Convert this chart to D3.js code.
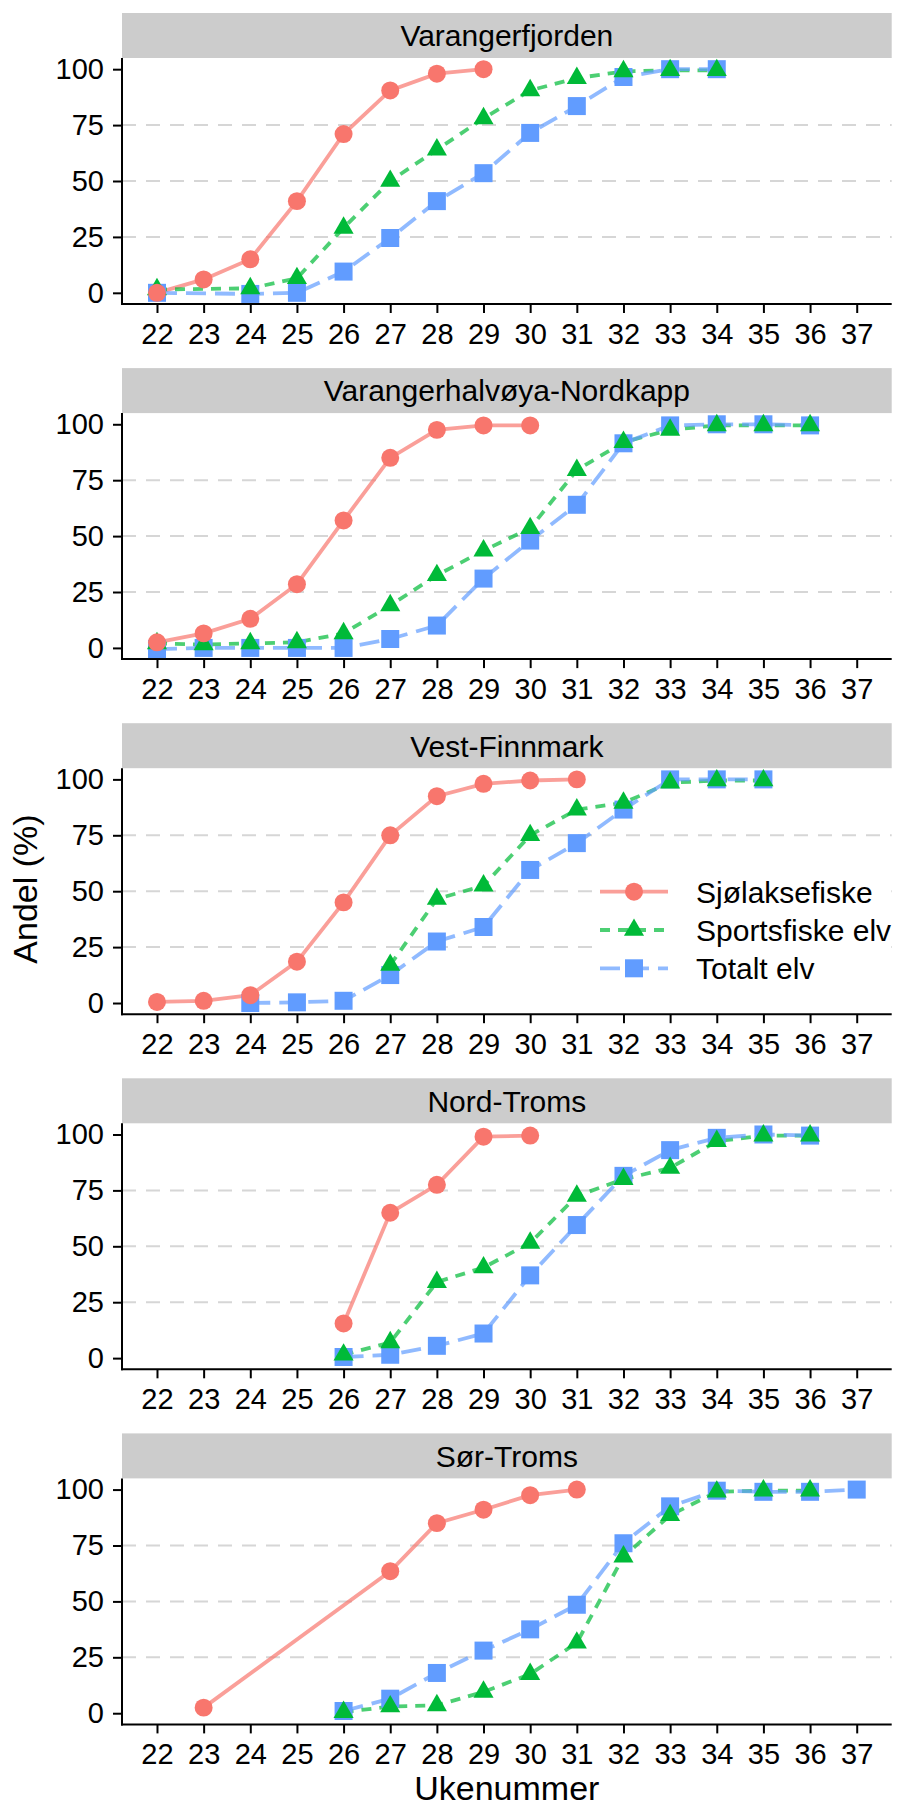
<!DOCTYPE html>
<html>
<head>
<meta charset="utf-8">
<script src="https://cdn.jsdelivr.net/npm/d3@7"></script>
<style>
  body { margin: 0; background: #fff; }
  svg { display: block; font-family: "Liberation Sans", Arial, sans-serif; }
</style>
</head>
<body>
<svg width="899" height="1809"></svg>
<script>
// Facet names, series names and week ticks
var regions = ['Varangerfjorden', 'Varangerhalvøya-Nordkapp', 'Vest-Finnmark', 'Nord-Troms', 'Sør-Troms'];
var seriesNames = ['Sjølaksefiske', 'Sportsfiske elv', 'Totalt elv'];
var weeks = [22, 23, 24, 25, 26, 27, 28, 29, 30, 31, 32, 33, 34, 35, 36, 37];
var yTicks = [0, 25, 50, 75, 100];

// Cumulative share (%) per week, one value per entry in weeks (null = no data)
var varangerfjordenSjo   = [0, 6, 15, 41, 71, 90.5, 98, 100, null, null, null, null, null, null, null, null];
var varangerfjordenSport = [1.5, null, 2, 6.5, 29, 50, 64, 78, 90.5, 96, 99, 99.5, 99.5, null, null, null];
var varangerfjordenTotal = [0, null, -0.5, 0, 9.5, 24.5, 41, 53.5, 71.5, 83.5, 96.5, 100, 100, null, null, null];

var nordkappSjo   = [2.5, 6.5, 13, 28.5, 57, 85, 97.5, 99.5, 99.5, null, null, null, null, null, null, null];
var nordkappSport = [2, 1.5, 2, 2.5, 6.5, 19, 32.5, 43.5, 53.5, 79.5, 92, 97.5, 99.5, 99.5, 99.5, null];
var nordkappTotal = [-0.5, 0, 0, 0, 0, 4, 10, 31, 48, 64, 91.5, 99.5, 100, 100, 99.5, null];

var vestFinnmarkSjo   = [0.5, 1, 3.5, 18.5, 45, 75, 92.5, 98, 99.5, 100, null, null, null, null, null, null];
var vestFinnmarkSport = [null, null, null, null, null, 17, 46.5, 52.5, 75, 86.5, 89.5, 98.5, 99.5, 99.5, null, null];
var vestFinnmarkTotal = [null, null, 0, 0.3, 1, 12.5, 27.5, 34, 59.5, 71.5, 86.5, 100, 100, 100, null, null];

var nordTromsSjo   = [null, null, null, null, 15.5, 65, 77.5, 99, 99.5, null, null, null, null, null, null, null];
var nordTromsSport = [null, null, null, null, 1.5, 7, 34, 40.5, 51.5, 72.5, 80, 85, 97, 99.5, 99.5, null];
var nordTromsTotal = [null, null, null, null, 0.5, 1.5, 5.5, 11, 37, 59.5, 81.5, 93, 98.5, 100, 99.5, null];

var sorTromsSjo   = [null, 2.5, null, null, null, 63.5, 85, 91, 97.5, 100, null, null, null, null, null, null];
var sorTromsSport = [null, null, null, null, 0.5, 3, 3.5, 9.5, 17.5, 31.5, 70, 88.5, 99, 99.5, 99.5, null];
var sorTromsTotal = [null, null, null, null, 1, 6.5, 18, 28, 37.5, 48.5, 76, 92.5, 99.5, 99, 99, 100];

var panelValues = [
  [varangerfjordenSjo, varangerfjordenSport, varangerfjordenTotal],
  [nordkappSjo, nordkappSport, nordkappTotal],
  [vestFinnmarkSjo, vestFinnmarkSport, vestFinnmarkTotal],
  [nordTromsSjo, nordTromsSport, nordTromsTotal],
  [sorTromsSjo, sorTromsSport, sorTromsTotal]
];

// Styling per series
var colors = ['#F8766D', '#00BA38', '#619CFF'];
var dashes = [null, '10,8', '20,9'];
var symbols = [d3.symbolCircle, d3.symbolTriangle, d3.symbolSquare];
var symbolSizes = [254, 175, 324];

var svg = d3.select('svg');

// Layout
var left = 122, right = 891.7;
var firstTop = 13, panelStep = 355.1, stripH = 45, plotH = 246;
var font = 29;

var x = d3.scaleLinear().domain([21.25, 37.75]).range([left, right]);

// Draw one facet panel
regions.forEach(function (region, i) {
  var top = firstTop + i * panelStep;
  var plotTop = top + stripH;
  var plotBottom = plotTop + plotH;
  var y = d3.scaleLinear().domain([-5, 105]).range([plotBottom, plotTop]);
  var g = svg.append('g').attr('class', 'panel');

  // Strip:
  g.append('rect')
    .attr('x', left).attr('y', top)
    .attr('width', right - left).attr('height', stripH)
    .attr('fill', '#cccccc');
  g.append('text')
    .attr('x', (left + right) / 2).attr('y', top + stripH / 2)
    .attr('dy', '0.36em')
    .attr('text-anchor', 'middle')
    .attr('font-size', 30)
    .text(region);

  // Dashed grid at inner ticks:
  g.selectAll('.grid')
    .data(yTicks.filter(function (d) { return d > 0 && d < 100; }))
    .enter()
    .append('line')
    .attr('x1', left).attr('x2', right)
    .attr('y1', y).attr('y2', y)
    .attr('stroke', '#d6d6d6')
    .attr('stroke-width', 2)
    .attr('stroke-dasharray', '14,10');

  // Legend background sits on the third panel (drawn before the lines)
  if (i === 2) {
    svg.append('rect')
      .attr('x', 595).attr('y', 870)
      .attr('width', 296).attr('height', 120)
      .attr('fill', '#fff');
  }

  // Axes:
  var yAxis = g.append('g')
    .attr('transform', 'translate(' + left + ',0)')
    .call(d3.axisLeft(y).tickValues(yTicks).tickSize(9).tickPadding(9));
  var xAxis = g.append('g')
    .attr('transform', 'translate(0,' + plotBottom + ')')
    .call(d3.axisBottom(x).tickValues(weeks).tickSize(9).tickPadding(10).tickFormat(d3.format('d')));
  [yAxis, xAxis].forEach(function (ax) {
    ax.select('.domain').remove();
    ax.selectAll('line').attr('stroke', '#000').attr('stroke-width', 2);
    ax.selectAll('text')
      .attr('font-size', font)
      .attr('font-family', '"Liberation Sans", Arial, sans-serif')
      .attr('fill', '#000');
  });
  g.append('line')
    .attr('x1', left).attr('x2', left)
    .attr('y1', plotTop).attr('y2', plotBottom + 1)
    .attr('stroke', '#000').attr('stroke-width', 2);
  g.append('line')
    .attr('x1', left - 1).attr('x2', right)
    .attr('y1', plotBottom).attr('y2', plotBottom)
    .attr('stroke', '#000').attr('stroke-width', 2);

  // Turn the value arrays into points, skipping missing weeks:
  var series = panelValues[i].map(function (values, s) {
    return weeks.map(function (w, k) { return { week: w, value: values[k] }; })
      .filter(function (d) { return d.value !== null; });
  });

  var line = d3.line()
    .x(function (d) { return x(d.week); })
    .y(function (d) { return y(d.value); });

  series.forEach(function (pts, s) {
    g.append('path')
      .datum(pts)
      .attr('d', line)
      .attr('fill', 'none')
      .attr('stroke', colors[s])
      .attr('stroke-opacity', 0.7)
      .attr('stroke-width', 3.8)
      .attr('stroke-dasharray', dashes[s]);
  });

  // Points: blue first, red on top
  [2, 1, 0].forEach(function (s) {
    g.selectAll('.pt' + s)
      .data(series[s])
      .enter()
      .append('path')
      .attr('class', 'pt' + s)
      .attr('transform', function (d) { return 'translate(' + x(d.week) + ',' + y(d.value) + ')'; })
      .attr('d', d3.symbol().type(symbols[s]).size(symbolSizes[s]))
      .attr('fill', colors[s]);
  });
});

// Legend:
var legend = svg.append('g').attr('transform', 'translate(600,0)');
seriesNames.forEach(function (name, s) {
  var ly = 891.7 + s * 38.3;
  legend.append('line')
    .attr('x1', 0).attr('x2', 68)
    .attr('y1', ly).attr('y2', ly)
    .attr('stroke', colors[s])
    .attr('stroke-opacity', 0.7)
    .attr('stroke-width', 3.8)
    .attr('stroke-dasharray', dashes[s]);
  legend.append('path')
    .attr('transform', 'translate(34,' + ly + ')')
    .attr('d', d3.symbol().type(symbols[s]).size(symbolSizes[s]))
    .attr('fill', colors[s]);
  legend.append('text')
    .attr('x', 96).attr('y', ly)
    .attr('dy', '0.36em')
    .attr('font-size', 30)
    .text(name);
});

// Axis titles:
svg.append('text')
  .attr('x', (left + right) / 2).attr('y', 1800)
  .attr('text-anchor', 'middle')
  .attr('font-size', 34)
  .text('Ukenummer');

svg.append('text')
  .attr('transform', 'translate(37,889) rotate(-90)')
  .attr('text-anchor', 'middle')
  .attr('font-size', 34)
  .text('Andel (%)');
</script>
</body>
</html>
